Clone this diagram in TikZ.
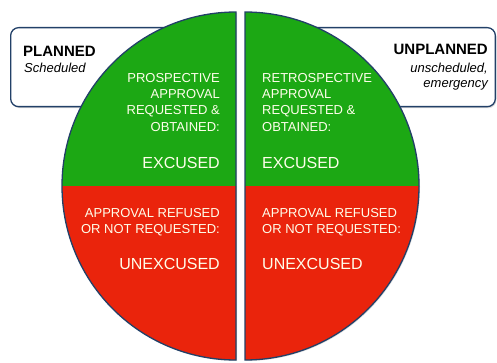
\documentclass[tikz,border=0pt]{standalone}
\usepackage{fontspec}
\setmainfont{Liberation Sans}
\usetikzlibrary{positioning,shadows}
\definecolor{okgreen}{RGB}{28,168,20}
\definecolor{badred}{RGB}{234,36,12}
\definecolor{rimblue}{RGB}{34,64,104}
\tikzset{tag box/.style={draw=rimblue,line width=1.3pt,fill=white,rounded corners=8pt,
    drop shadow={opacity=0.3,shadow xshift=1pt,shadow yshift=-1.5pt}},
  half disc/.style={draw=rimblue,line width=1.3pt},
  verdict/.style={inner sep=0pt,text=white!92!yellow,font=\fontsize{13}{16}\selectfont},
  big verdict/.style={inner sep=0pt,text=white!92!yellow,font=\fontsize{16}{19}\selectfont}}

\begin{document}
\begin{tikzpicture}[x=1pt,y=1pt]
  \useasboundingbox (0,0) rectangle (497,362);
  % boxes behind the disc
  \node[tag box,minimum width=200pt,minimum height=79pt,anchor=north west] (planbox) at (10,335) {};
  \node[tag box,minimum width=206pt,minimum height=79pt,anchor=north east] (unplanbox) at (496,335) {};
  % left half
  \path[fill=okgreen,drop shadow={opacity=0.25,shadow xshift=1pt,shadow yshift=-1pt}]
    (236,2) -- (236,350) arc[start angle=90,end angle=270,radius=174] -- cycle;
  \fill[badred] (236,176) -- (62,176) arc[start angle=180,end angle=270,radius=174] -- cycle;
  \draw[half disc] (236,2) -- (236,350) arc[start angle=90,end angle=270,radius=174] -- cycle;
  % right half
  \path[fill=okgreen,drop shadow={opacity=0.25,shadow xshift=1pt,shadow yshift=-1pt}]
    (245,2) -- (245,350) arc[start angle=90,end angle=-90,radius=174] -- cycle;
  \fill[badred] (245,176) -- (419,176) arc[start angle=0,end angle=-90,radius=174] -- cycle;
  \draw[half disc] (245,2) -- (245,350) arc[start angle=90,end angle=-90,radius=174] -- cycle;
  % box labels
  \node[inner sep=0pt,anchor=base west,font=\fontsize{15}{18}\selectfont\bfseries] (planned) at (23,305) {PLANNED};
  \node[inner sep=0pt,anchor=base west,font=\fontsize{13}{16}\selectfont\itshape] (sched) at (24,289) {Scheduled};
  \node[inner sep=0pt,anchor=base east,font=\fontsize{15}{18}\selectfont\bfseries] (unplanned) at (488,307) {UNPLANNED};
  \node[inner sep=0pt,anchor=base east,align=right,font=\fontsize{13}{15}\selectfont\itshape] (unsched) at (488,274) {unscheduled,\\emergency};
  % green quarters
  \node[verdict,align=right,anchor=base east] (prosp) at (220,231) {PROSPECTIVE\\APPROVAL\\REQUESTED \&\\OBTAINED:};
  \node[big verdict,anchor=base east] (excl) at (220,194) {EXCUSED};
  \node[verdict,align=left,anchor=base west] (retro) at (262,231) {RETROSPECTIVE\\APPROVAL\\REQUESTED \&\\OBTAINED:};
  \node[big verdict,anchor=base west] (excr) at (262,194) {EXCUSED};
  % red quarters
  \node[verdict,align=right,anchor=base east] (refl) at (220,129) {APPROVAL REFUSED\\OR NOT REQUESTED:};
  \node[big verdict,anchor=base east] (unexl) at (220,93) {UNEXCUSED};
  \node[verdict,align=left,anchor=base west] (refr) at (262,129) {APPROVAL REFUSED\\OR NOT REQUESTED:};
  \node[big verdict,anchor=base west] (unexr) at (262,93) {UNEXCUSED};
\end{tikzpicture}
\end{document}
